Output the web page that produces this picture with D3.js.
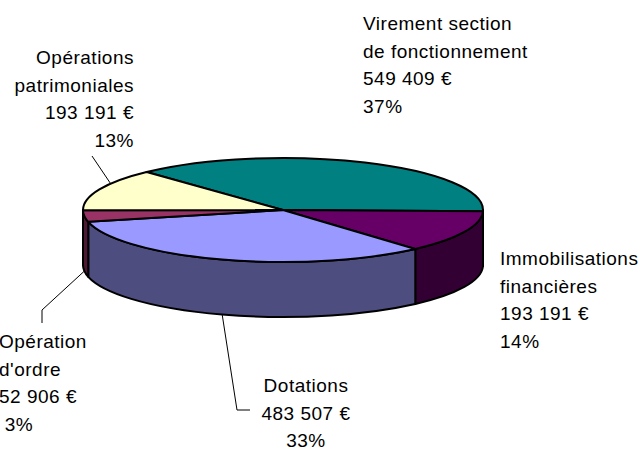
<!DOCTYPE html>
<html>
<head>
<meta charset="utf-8">
<script src="https://cdn.jsdelivr.net/npm/d3@7"></script>
<style>
  body { margin: 0; background: #fff; }
  svg { display: block; }
  text { font-family: "Liberation Sans", Arial, Helvetica, sans-serif; font-size: 19px; letter-spacing: 0.5px; fill: #000; }
</style>
</head>
<body>
<svg width="642" height="450"></svg>
<script>
// data
const categories = [
    ["Virement section", "de fonctionnement"],
    ["Immobilisations", "financières"],
    ["Dotations"],
    ["Opération", "d'ordre"],
    ["Opérations", "patrimoniales"]
];
const values = [549409, 193191, 483507, 52906, 193191];
const percents = ["37%", "14%", "33%", " 3%", "13%"];
const topColors = ["#008080", "#660066", "#9999ff", "#993366", "#ffffcc"];
const sideColors = ["#004040", "#330033", "#4d4d80", "#4d1a33", "#80805f"];

// label placement (x, first baseline, anchor) and leader elbows
const labelLayout = [
    {x: 363, y: 30, anchor: "start", leader: null},
    {x: 500, y: 265, anchor: "start", leader: null},
    {x: 306, y: 392, anchor: "middle", leader: [[237, 410], [250, 410]], side: true, at: 0.5},
    {x: -1, y: 348, anchor: "start", leader: [[42, 310], [42, 323]], side: true, at: 0.5},
    {x: 134, y: 64, anchor: "end", leader: [[92, 156]], side: false, at: 0.65}
];

var svg = d3.select("svg");
var cx = 283, cy = 210, rx = 200, ry = 52, depth = 55;
var lineH = 27.7;

var fr = d3.formatLocale({decimal: ",", thousands: " ", grouping: [3], currency: ["", " €"]});
var money = fr.format("$,");

var start = -43 * Math.PI / 180;
var pie = d3.pie().sort(null).value(d => d)
    .startAngle(start).endAngle(start + 2 * Math.PI);
var arcs = pie(values);

function pt(a, dy) {
    return [cx + rx * Math.sin(a), cy - ry * Math.cos(a) + (dy || 0)];
}

// side walls (front half only: angles between 90 and 270 deg)
var front0 = Math.PI / 2, front1 = 3 * Math.PI / 2;
var sides = svg.append("g");
arcs.forEach(function (d, i) {
    var a0 = Math.max(d.startAngle, front0), a1 = Math.min(d.endAngle, front1);
    if (a1 <= a0) return;
    var p0 = pt(a0), p1 = pt(a1), q1 = pt(a1, depth), q0 = pt(a0, depth);
    var large = (a1 - a0) > Math.PI ? 1 : 0;
    var p = "M" + p0 + " A" + rx + "," + ry + " 0 " + large + " 1 " + p1 +
        " L" + q1 + " A" + rx + "," + ry + " 0 " + large + " 0 " + q0 + " Z";
    sides.append("path")
        .attr("d", p)
        .attr("fill", sideColors[i])
        .attr("stroke", "#000")
        .attr("stroke-width", 2)
        .attr("stroke-linejoin", "round");
});

// top faces
var arc = d3.arc().innerRadius(0).outerRadius(rx);
svg.append("g")
    .attr("transform", "translate(" + cx + "," + cy + ") scale(1," + (ry / rx) + ")")
    .selectAll("path")
    .data(arcs)
    .enter().append("path")
    .attr("d", arc)
    .attr("fill", (d, i) => topColors[i])
    .attr("stroke", "#000")
    .attr("stroke-width", 2)
    .attr("stroke-linejoin", "round")
    .attr("vector-effect", "non-scaling-stroke");

// leader lines
arcs.forEach(function (d, i) {
    var lay = labelLayout[i];
    if (!lay.leader) return;
    var a = d.startAngle + (d.endAngle - d.startAngle) * lay.at;
    var p0 = pt(a, lay.side ? depth : 0);
    var pts = [p0].concat(lay.leader);
    svg.append("path")
        .attr("d", d3.line()(pts))
        .attr("fill", "none")
        .attr("stroke", "#000")
        .attr("stroke-width", 1);
});

// labels
arcs.forEach(function (d, i) {
    var lay = labelLayout[i];
    var lines = categories[i].concat([money(values[i]), percents[i]]);
    var t = svg.append("text")
        .attr("text-anchor", lay.anchor)
        .attr("xml:space", "preserve");
    lines.forEach(function (s, k) {
        t.append("tspan")
            .attr("x", lay.x)
            .attr("y", lay.y + k * lineH)
            .text(s);
    });
});
</script>
</body>
</html>
